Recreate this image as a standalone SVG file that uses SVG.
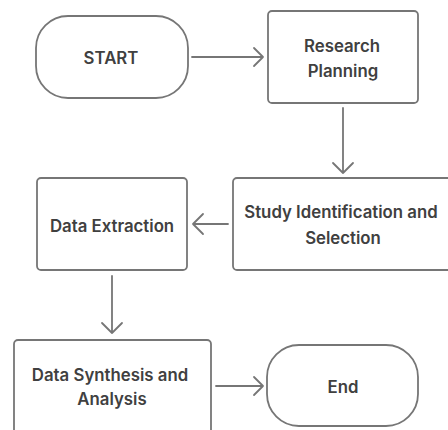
<svg xmlns="http://www.w3.org/2000/svg" width="448" height="430" viewBox="0 0 448 430">
<defs>
<style>
.node{fill:#fff;stroke:#767676;stroke-width:1.8}
.lbl{font-family:Inter,"Liberation Sans",sans-serif;font-size:16.8px;font-weight:600;fill:#404040;text-anchor:middle}
.edge{fill:none;stroke:#767676;stroke-width:1.8;stroke-linecap:round;stroke-linejoin:round}
</style>
</defs>
<rect width="448" height="430" fill="#fff"/>
<g id="start"><rect class="node" x="36" y="16" width="152" height="82" rx="32"/><text class="lbl" x="111" y="64">START</text></g>
<g id="research"><rect class="node" x="268" y="11" width="150" height="92" rx="4"/><text class="lbl" x="342" y="52">Research</text><text class="lbl" x="343" y="77">Planning</text></g>
<g id="study"><rect class="node" x="233" y="178" width="220" height="92" rx="4"/><text class="lbl" x="341" y="218">Study Identification and</text><text class="lbl" x="343" y="244">Selection</text></g>
<g id="extraction"><rect class="node" x="37" y="178" width="150" height="92" rx="4"/><text class="lbl" x="112" y="232">Data Extraction</text></g>
<g id="synthesis"><rect class="node" x="14" y="340" width="197" height="105" rx="4"/><text class="lbl" x="110" y="381">Data Synthesis and</text><text class="lbl" x="112" y="405">Analysis</text></g>
<g id="end"><rect class="node" x="267" y="345" width="151" height="81" rx="32"/><text class="lbl" x="343" y="393">End</text></g>
<g id="connectors">
<path class="edge" d="M192 57H263M254 48L263 57L254 66"/>
<path class="edge" d="M343 108V173M333 163L343 173L353 163"/>
<path class="edge" d="M228 224H193M203 214L193 224L203 234"/>
<path class="edge" d="M112 276V333M102 323L112 333L122 323"/>
<path class="edge" d="M216 386H263M254 377L263 386L254 395"/>
</g>
</svg>
